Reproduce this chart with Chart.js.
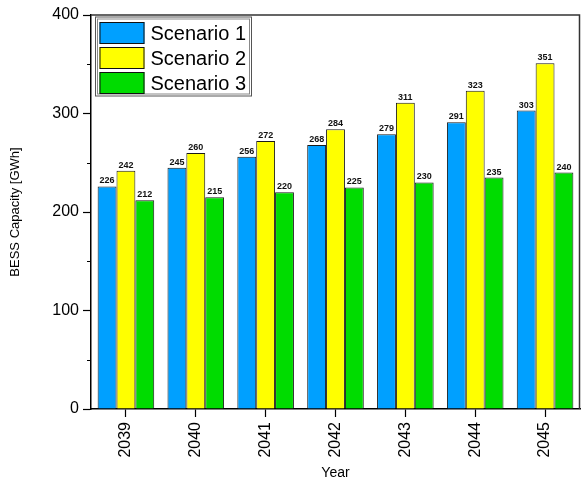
<!DOCTYPE html>
<html>
<head>
<meta charset="utf-8">
<script src="https://cdn.jsdelivr.net/npm/chart.js@4/dist/chart.umd.min.js"></script>
<style>
  html, body { margin: 0; padding: 0; background: #fff; }
  #wrap { width: 581px; height: 483px; }
</style>
</head>
<body>
<div id="wrap"><canvas id="c" width="581" height="483"></canvas></div>
<script>
// BESS capacity by year for three scenarios (GWh)
const years = ['2039', '2040', '2041', '2042', '2043', '2044', '2045'];
const scenario1 = [226, 245, 256, 268, 279, 291, 303];
const scenario2 = [242, 260, 272, 284, 311, 323, 351];
const scenario3 = [212, 215, 220, 225, 230, 235, 240];
const seriesNames = ['Scenario 1', 'Scenario 2', 'Scenario 3'];
const seriesColors = ['#00A0FF', '#FFFF00', '#00DC00'];
const minorTicks = [50, 150, 250, 350];

const FONT = '"Liberation Sans", Arial, Helvetica, sans-serif';

// Value labels printed above each bar
const valueLabels = {
  id: 'valueLabels',
  afterDatasetsDraw(chart) {
    const ctx = chart.ctx;
    ctx.save();
    ctx.font = 'bold 9px ' + FONT;
    ctx.fillStyle = '#111';
    ctx.textAlign = 'center';
    ctx.textBaseline = 'bottom';
    chart.data.datasets.forEach((ds, i) => {
      const meta = chart.getDatasetMeta(i);
      meta.data.forEach((bar, j) => {
        ctx.fillText(String(ds.data[j]), bar.x, bar.y - 1);
      });
    });
    ctx.restore();
  }
};

// Plot frame (top/right border) and minor ticks on the value axis
const frame = {
  id: 'frame',
  afterDraw(chart) {
    const {ctx, chartArea: a} = chart;
    const y = chart.scales.y;
    ctx.save();
    ctx.strokeStyle = '#333';
    ctx.lineWidth = 1.5;
    ctx.beginPath();
    ctx.moveTo(a.left, a.top);
    ctx.lineTo(a.right - 0.5, a.top);
    ctx.lineTo(a.right - 0.5, a.bottom);
    ctx.stroke();
    ctx.strokeStyle = '#000';
    ctx.lineWidth = 1;
    minorTicks.forEach(v => {
      const py = Math.round(y.getPixelForValue(v)) + 0.5;
      ctx.beginPath();
      ctx.moveTo(a.left - 4, py);
      ctx.lineTo(a.left, py);
      ctx.stroke();
    });
    ctx.restore();
  }
};

// Boxed legend in the upper-left corner of the plot
const boxLegend = {
  id: 'boxLegend',
  afterDraw(chart) {
    const ctx = chart.ctx;
    const a = chart.chartArea;
    const x0 = a.left + 4.5, y0 = a.top + 2;
    const w = 156, h = 79;
    ctx.save();
    ctx.fillStyle = '#fff';
    ctx.fillRect(x0, y0, w, h);
    ctx.strokeStyle = '#555';
    ctx.lineWidth = 1;
    ctx.strokeRect(x0, y0, w, h);
    ctx.strokeStyle = '#888';
    ctx.strokeRect(x0 + 2, y0 + 2, w - 4, h - 4);
    ctx.font = '20px ' + FONT;
    ctx.textBaseline = 'middle';
    ctx.textAlign = 'left';
    chart.data.datasets.forEach((ds, i) => {
      const sy = y0 + 5 + i * 25;
      ctx.fillStyle = ds.backgroundColor;
      ctx.fillRect(x0 + 4, sy, 45, 22);
      ctx.strokeStyle = '#111';
      ctx.strokeRect(x0 + 4.5, sy + 0.5, 44, 21);
      ctx.fillStyle = '#000';
      ctx.fillText(ds.label, x0 + 55, sy + 12);
    });
    ctx.restore();
  }
};

const datasets = [scenario1, scenario2, scenario3].map((d, i) => ({
  label: seriesNames[i],
  data: d,
  backgroundColor: seriesColors[i],
  borderColor: '#1a1a1a',
  borderWidth: 1,
  categoryPercentage: 0.81,
  barPercentage: 1.0
}));

new Chart(document.getElementById('c'), {
  type: 'bar',
  data: { labels: years, datasets },
  options: {
    responsive: false,
    animation: false,
    devicePixelRatio: 1,
    layout: { padding: { left: 0, right: 1, top: 15, bottom: 0 } },
    plugins: {
      legend: { display: false },
      tooltip: { enabled: false }
    },
    scales: {
      x: {
        offset: true,
        grid: { offset: false, drawOnChartArea: false, drawTicks: true, tickLength: 8, tickColor: '#000', tickWidth: 1.2 },
        border: { display: true, color: '#000', width: 1.5 },
        ticks: {
          color: '#000',
          font: { family: FONT, size: 16 },
          minRotation: 90,
          maxRotation: 90,
          padding: 5
        },
        title: {
          display: true,
          text: 'Year',
          color: '#000',
          font: { family: FONT, size: 14 },
          padding: { top: 0, bottom: 1 }
        },
        afterFit(s) { s.height = 74; }
      },
      y: {
        min: 0,
        max: 400,
        grid: { drawOnChartArea: false, drawTicks: true, tickLength: 8, tickColor: '#000', tickWidth: 1.2 },
        border: { display: true, color: '#000', width: 1.5 },
        ticks: {
          stepSize: 100,
          color: '#000',
          font: { family: FONT, size: 16 },
          padding: 4
        },
        title: {
          display: true,
          text: 'BESS Capacity [GWh]',
          color: '#000',
          font: { family: FONT, size: 13 },
          padding: { top: 8, bottom: 0 }
        },
        afterFit(s) { s.width = 91; }
      }
    }
  },
  plugins: [valueLabels, frame, boxLegend]
});
</script>
</body>
</html>
